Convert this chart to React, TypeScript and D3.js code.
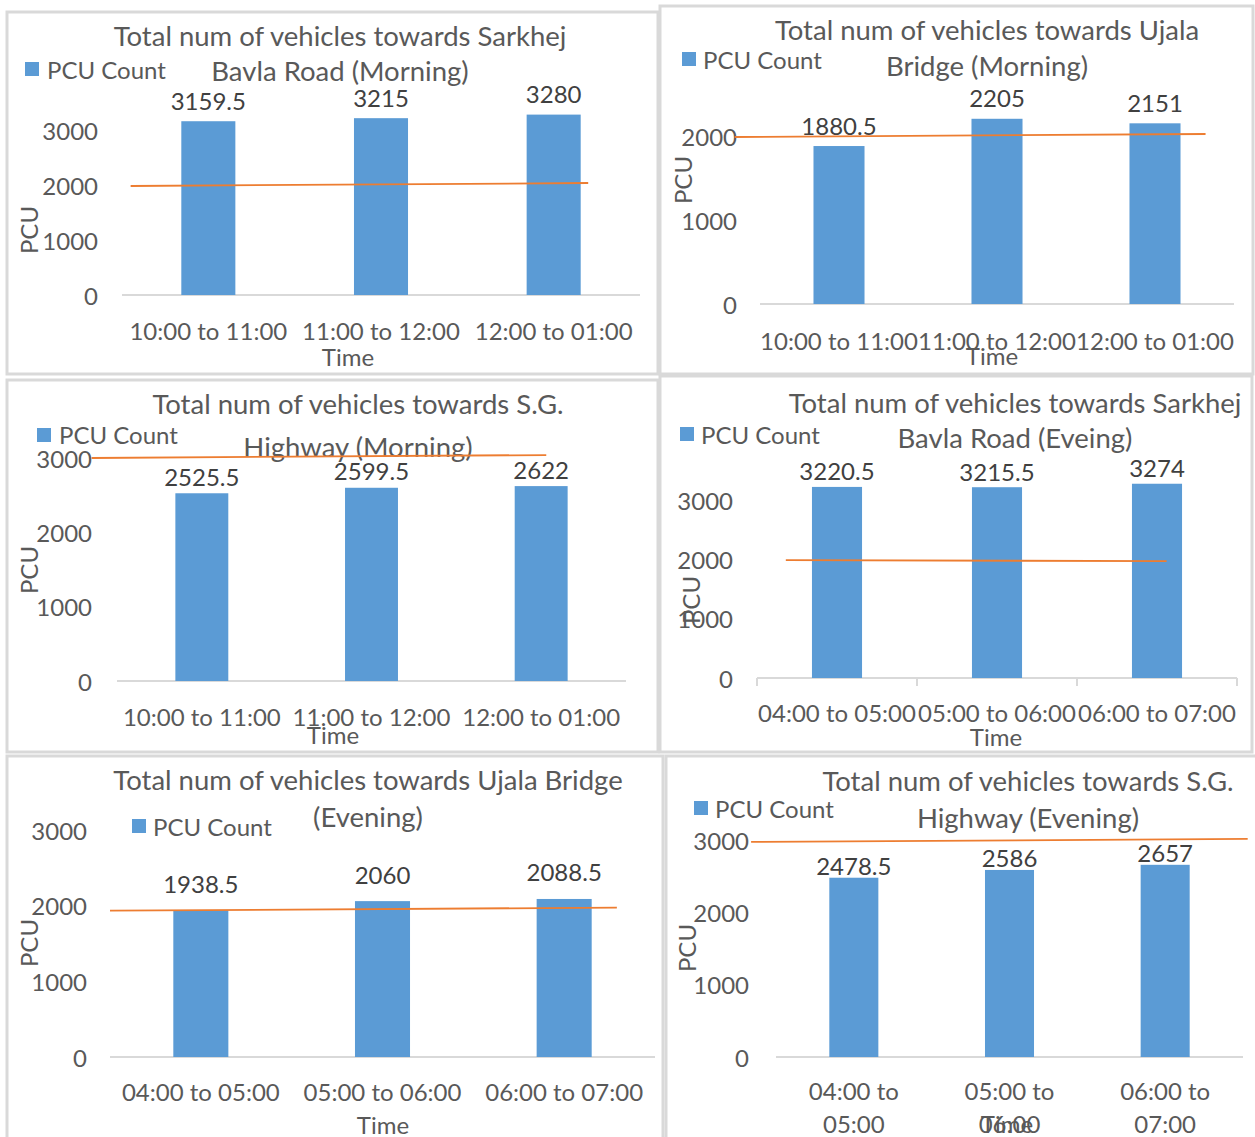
import React from "react";
import * as d3 from "d3";

// ---------- data ----------
const categoriesMorning = ["10:00 to 11:00", "11:00 to 12:00", "12:00 to 01:00"];
const categoriesEvening = ["04:00 to 05:00", "05:00 to 06:00", "06:00 to 07:00"];

const sarkhejMorning = [3159.5, 3215, 3280];
const ujalaMorning = [1880.5, 2205, 2151];
const sgMorning = [2525.5, 2599.5, 2622];
const sarkhejEvening = [3220.5, 3215.5, 3274];
const ujalaEvening = [1938.5, 2060, 2088.5];
const sgEvening = [2478.5, 2586, 2657];

const ticksTo3000 = [0, 1000, 2000, 3000];
const ticksTo2000 = [0, 1000, 2000];

const titleSarkhejMorning = ["Total num of vehicles towards Sarkhej", "Bavla Road (Morning)"];
const titleUjalaMorning = ["Total num of vehicles towards Ujala", "Bridge (Morning)"];
const titleSgMorning = ["Total num of vehicles towards S.G.", "Highway (Morning)"];
const titleSarkhejEvening = ["Total num of vehicles towards Sarkhej", "Bavla Road (Eveing)"];
const titleUjalaEvening = ["Total num of vehicles towards Ujala Bridge", "(Evening)"];
const titleSgEvening = ["Total num of vehicles towards S.G.", "Highway (Evening)"];

// orange reference line: [start value, end value]
const refSarkhejMorning = [1982, 2036];
const refUjalaMorning = [1988, 2024];
const refSgMorning = [3000, 3040];
const refSarkhejEvening = [1985, 1970];
const refUjalaEvening = [1934, 1974];
const refSgEvening = [2974, 3015];

const legendLabel = "PCU Count";
const yTitle = "PCU";
const xTitle = "Time";

// ---------- layout ----------
type Layout = {
  box: number[];
  left: number; right: number; bottom: number; top: number;
  titleX: number; title1Y: number; title2Y: number;
  legX: number; legY: number; legTX: number; legTY: number;
  tickRight: number;
  pcuX: number; pcuY: number;
  timeX: number; timeY: number;
  xLabY: number; wrap?: boolean; wrapDy?: number;
  frac: number; labOff: number;
  refX: number[];
  tickMarks?: boolean;
};

const panels: { cats: string[]; vals: number[]; ticks: number[]; title: string[]; ref: number[]; L: Layout }[] = [
  {
    cats: categoriesMorning, vals: sarkhejMorning, ticks: ticksTo3000, title: titleSarkhejMorning, ref: refSarkhejMorning,
    L: { box: [7, 12, 651, 362], left: 122, right: 640, bottom: 295, top: 130, titleX: 340, title1Y: 35, title2Y: 70,
      legX: 25, legY: 62, legTX: 47, legTY: 69, tickRight: 98, pcuX: 28, pcuY: 230, timeX: 348, timeY: 356,
      xLabY: 330, frac: 0.313, labOff: 21, refX: [-0.45, 2.2] },
  },
  {
    cats: categoriesMorning, vals: ujalaMorning, ticks: ticksTo2000, title: titleUjalaMorning, ref: refUjalaMorning,
    L: { box: [660, 6, 593, 368], left: 760, right: 1234, bottom: 304, top: 136, titleX: 987, title1Y: 29, title2Y: 65,
      legX: 682, legY: 52, legTX: 703, legTY: 59, tickRight: 737, pcuX: 682, pcuY: 180, timeX: 992, timeY: 355,
      xLabY: 340, frac: 0.323, labOff: 21, refX: [-0.66, 2.32] },
  },
  {
    cats: categoriesMorning, vals: sgMorning, ticks: ticksTo3000, title: titleSgMorning, ref: refSgMorning,
    L: { box: [7, 380, 651, 372], left: 117, right: 626, bottom: 681, top: 458, titleX: 358, title1Y: 403, title2Y: 446,
      legX: 37, legY: 428, legTX: 59, legTY: 434, tickRight: 92, pcuX: 28, pcuY: 570, timeX: 333, timeY: 734,
      xLabY: 716, frac: 0.312, labOff: 17, refX: [-0.65, 2.03] },
  },
  {
    cats: categoriesEvening, vals: sarkhejEvening, ticks: ticksTo3000, title: titleSarkhejEvening, ref: refSarkhejEvening,
    L: { box: [660, 376, 592, 376], left: 757, right: 1237, bottom: 678, top: 500, titleX: 1015, title1Y: 402, title2Y: 437,
      legX: 680, legY: 427, legTX: 701, legTY: 434, tickRight: 733, pcuX: 690, pcuY: 600, timeX: 996, timeY: 736,
      xLabY: 712, frac: 0.313, labOff: 16, refX: [-0.32, 2.06], tickMarks: true },
  },
  {
    cats: categoriesEvening, vals: ujalaEvening, ticks: ticksTo3000, title: titleUjalaEvening, ref: refUjalaEvening,
    L: { box: [7, 756, 656, 400], left: 110, right: 655, bottom: 1057, top: 830, titleX: 368, title1Y: 779, title2Y: 816,
      legX: 132, legY: 819, legTX: 153, legTY: 826, tickRight: 87, pcuX: 28, pcuY: 943, timeX: 383, timeY: 1124,
      xLabY: 1091, frac: 0.303, labOff: 27, refX: [-0.5, 2.29] },
  },
  {
    cats: categoriesEvening, vals: sgEvening, ticks: ticksTo3000, title: titleSgEvening, ref: refSgEvening,
    L: { box: [666, 756, 595, 400], left: 776, right: 1243, bottom: 1057, top: 840, titleX: 1028, title1Y: 780, title2Y: 817,
      legX: 694, legY: 801, legTX: 715, legTY: 808, tickRight: 749, pcuX: 686, pcuY: 948, timeX: 1007, timeY: 1123,
      xLabY: 1090, wrap: true, wrapDy: 33, frac: 0.315, labOff: 12, refX: [-0.66, 2.53] },
  },
];

const FONT = "Lato, 'Open Sans', sans-serif";
const TXT = "#595959";
const BAR = "#5B9BD5";
const ORANGE = "#ED7D31";
const GRID = "#d9d9d9";

function Panel({ cats, vals, ticks, title, ref, L }: (typeof panels)[number]) {
  const x = d3.scaleBand<string>().domain(cats).range([L.left, L.right]).padding(0);
  const y = d3.scaleLinear().domain([0, d3.max(ticks) as number]).range([L.bottom, L.top]);
  const step = x.step();
  const bw = step * L.frac;
  const refPts: [number, number][] = [
    [L.left + step * (0.5 + L.refX[0]), y(ref[0])],
    [L.left + step * (0.5 + L.refX[1]), y(ref[1])],
  ];
  const line = d3.line<[number, number]>().x((d) => d[0]).y((d) => d[1]);
  const fs = 24;
  const tfs = 27.5;
  return (
    <g fontFamily={FONT}>
      <rect x={L.box[0]} y={L.box[1]} width={L.box[2]} height={L.box[3]} fill="#fff" stroke={GRID} strokeWidth={3} />
      {title.map((t, i) => (
        <text key={i} x={L.titleX} y={i === 0 ? L.title1Y : L.title2Y} textAnchor="middle" dominantBaseline="central" fontSize={tfs} fill={TXT}>
          {t}
        </text>
      ))}
      <rect x={L.legX} y={L.legY} width={14} height={14} fill={BAR} />
      <text x={L.legTX} y={L.legTY} dominantBaseline="central" fontSize={fs} fill={TXT}>{legendLabel}</text>
      {ticks.map((t) => (
        <text key={t} x={L.tickRight} y={y(t)} textAnchor="end" dominantBaseline="central" fontSize={fs} fill={TXT}>{t}</text>
      ))}
      <line x1={L.left} x2={L.right} y1={L.bottom} y2={L.bottom} stroke={GRID} strokeWidth={2} />
      {L.tickMarks &&
        [0, 1, 2, 3].map((i) => (
          <line key={i} x1={L.left + step * i} x2={L.left + step * i} y1={L.bottom} y2={L.bottom + 8} stroke={GRID} strokeWidth={2} />
        ))}
      {cats.map((c, i) => (
        <rect key={c} x={(x(c) as number) + (step - bw) / 2} y={y(vals[i])} width={bw} height={L.bottom - y(vals[i])} fill={BAR} />
      ))}
      {cats.map((c, i) => (
        <text key={c} x={(x(c) as number) + step / 2} y={y(vals[i]) - L.labOff} textAnchor="middle" dominantBaseline="central" fontSize={fs} fill="#404040">
          {vals[i]}
        </text>
      ))}
      <path d={line(refPts) as string} stroke={ORANGE} strokeWidth={1.8} fill="none" />
      {cats.map((c) => {
        const cx = (x(c) as number) + step / 2;
        if (L.wrap) {
          const parts = c.split(" to ");
          return (
            <g key={c}>
              <text x={cx} y={L.xLabY} textAnchor="middle" dominantBaseline="central" fontSize={fs} fill={TXT}>{parts[0] + " to"}</text>
              <text x={cx} y={L.xLabY + (L.wrapDy || 0)} textAnchor="middle" dominantBaseline="central" fontSize={fs} fill={TXT}>{parts[1]}</text>
            </g>
          );
        }
        return (
          <text key={c} x={cx} y={L.xLabY} textAnchor="middle" dominantBaseline="central" fontSize={fs} fill={TXT}>{c}</text>
        );
      })}
      <text x={L.timeX} y={L.timeY} textAnchor="middle" dominantBaseline="central" fontSize={fs} fill={TXT}>{xTitle}</text>
      <text transform={`translate(${L.pcuX},${L.pcuY}) rotate(-90)`} textAnchor="middle" dominantBaseline="central" fontSize={fs} fill={TXT}>{yTitle}</text>
    </g>
  );
}

export default function App() {
  return (
    <svg width={1255} height={1137} style={{ position: "absolute", left: 0, top: 0, background: "#fff" }}>
      <rect x={0} y={0} width={1255} height={1137} fill="#fff" />
      {panels.map((p, i) => (
        <Panel key={i} {...p} />
      ))}
    </svg>
  );
}
